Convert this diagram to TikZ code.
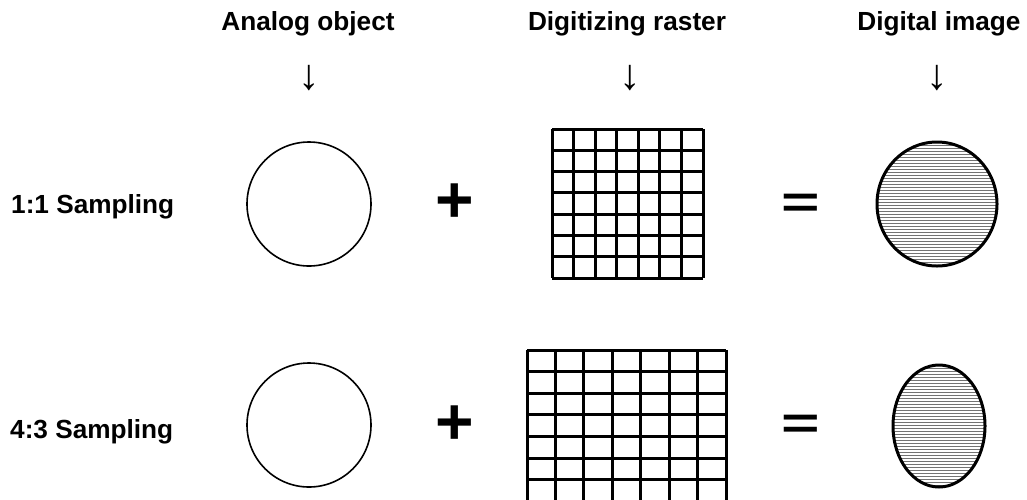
\documentclass[tikz,border=0pt]{standalone}
\usepackage{fontspec}
\setmainfont{Liberation Sans}
\begin{document}
\begin{tikzpicture}[x=1pt,y=-1pt,
  head/.style={font=\fontsize{26.2}{30}\selectfont\bfseries, anchor=base, inner sep=0pt},
  rowlabel/.style={font=\fontsize{26.2}{30}\selectfont\bfseries, anchor=base west, inner sep=0pt},
  downarrow/.style={font=\fontsize{43}{48}\selectfont, anchor=center, inner sep=0pt},
  opsign/.style={font=\fontsize{66}{70}\selectfont\bfseries, anchor=center, inner sep=0pt},
  analog/.style={draw=black, line width=1.6pt},
  digital/.style={draw=black, line width=3pt},
  gridline/.style={draw=black, line width=3pt},
  hatch/.style={draw=black!55, line width=0.7pt}]
\useasboundingbox (0,0) rectangle (1027,499);
\clip (0,0) rectangle (1027,499);

% headers
\node[head] (hA) at (308,30) {Analog object};
\node[head] (hB) at (627,30) {Digitizing raster};
\node[head] (hC) at (939,30) {Digital image};
\node[downarrow] (aA) at (309,78) {↓};
\node[downarrow] (aB) at (630,78) {↓};
\node[downarrow] (aC) at (937,78) {↓};

% row labels
\node[rowlabel] (r1) at (11,213) {1:1 Sampling};
\node[rowlabel] (r2) at (10,438) {4:3 Sampling};

% analog circles
\draw[analog] (309,204) circle[radius=62];
\draw[analog] (309,425) circle[radius=62];

% plus and equals
\node[opsign] (p1) at (455,203) {+};
\node[opsign] (p2) at (455,425) {+};
\node[opsign] (e1) at (801,205.5) {\scalebox{1}[0.68]{=}};
\node[opsign] (e2) at (801,427) {\scalebox{1}[0.68]{=}};

% raster 1 (7x7, square cells)
\foreach \i in {0,...,7} {
  \draw[gridline] ({552+\i*151/7},129) -- ({552+\i*151/7},278);
  \draw[gridline] (552,{129+\i*149/7}) -- (703,{129+\i*149/7});
}
% raster 2 (7x7, wide cells)
\foreach \i in {0,...,7} {
  \draw[gridline] ({527+\i*199/7},350) -- ({527+\i*199/7},502);
  \draw[gridline] (527,{350+\i*21.6}) -- (726,{350+\i*21.6});
}

% digital images
\begin{scope}
  \clip (937,204) ellipse[x radius=60, y radius=62];
  \foreach \y in {142,145,...,268} \draw[hatch] (870,\y) -- (1005,\y);
\end{scope}
\draw[digital] (937,204) ellipse[x radius=60, y radius=62];

\begin{scope}
  \clip (939,426) ellipse[x radius=46, y radius=61];
  \foreach \y in {365,368,...,490} \draw[hatch] (885,\y) -- (995,\y);
\end{scope}
\draw[digital] (939,426) ellipse[x radius=46, y radius=61];
\end{tikzpicture}
\end{document}
